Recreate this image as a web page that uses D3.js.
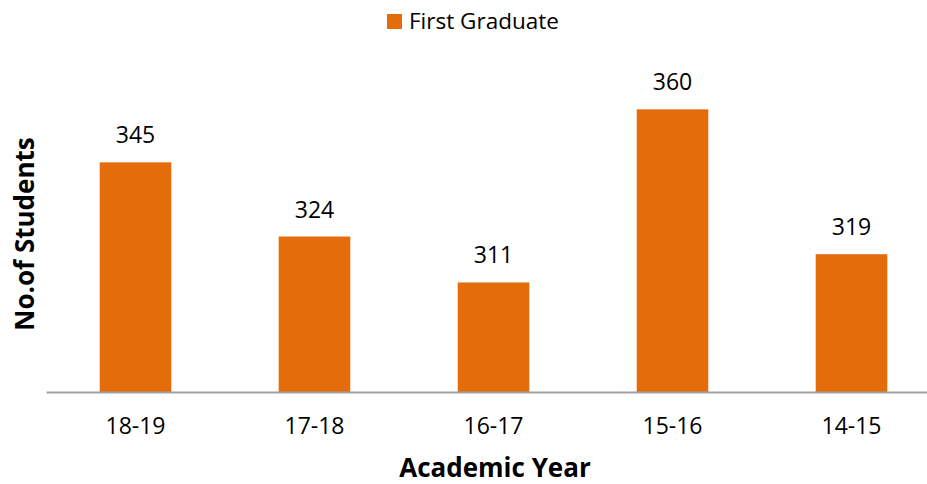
<!DOCTYPE html>
<html>
<head>
<meta charset="utf-8">
<script src="https://cdn.jsdelivr.net/npm/d3@7"></script>
<style>
  body { margin: 0; background: #fff; overflow: hidden; }
  text { font-family: "Open Sans", sans-serif; fill: #000; }
</style>
</head>
<body>
<svg id="chart"></svg>
<script>
var width = 927;
var height = 484;

var years = ["18-19", "17-18", "16-17", "15-16", "14-15"];
var students = [345, 324, 311, 360, 319];
var seriesName = "First Graduate";

var plot = { left: 46, right: 941, top: 74, bottom: 392 };
var barColor = "#E46C0A";

var svg = d3.select("#chart").attr("width", width).attr("height", height);

var data = years.map((y, i) => ({ year: y, value: students[i] }));

var xScale = d3
  .scaleBand()
  .domain(years)
  .range([plot.left, plot.right])
  .paddingInner(0.6)
  .paddingOuter(0.3);

var yScale = d3
  .scaleLinear()
  .domain([280, 370])
  .range([plot.bottom, plot.top]);

// bars
svg
  .selectAll("rect.bar")
  .data(data)
  .enter()
  .append("rect")
  .attr("class", "bar")
  .attr("x", (d) => xScale(d.year))
  .attr("y", (d) => yScale(d.value))
  .attr("width", xScale.bandwidth())
  .attr("height", (d) => plot.bottom - yScale(d.value))
  .attr("fill", barColor);

// value labels
svg
  .selectAll("text.val")
  .data(data)
  .enter()
  .append("text")
  .attr("class", "val")
  .attr("x", (d) => xScale(d.year) + xScale.bandwidth() / 2)
  .attr("y", (d) => yScale(d.value) - 19)
  .attr("text-anchor", "middle")
  .style("font-size", "23px")
  .text((d) => d.value);

// x axis
var xAxis = d3.axisBottom(xScale).tickSize(0).tickPadding(26);
var gx = svg
  .append("g")
  .attr("transform", `translate(0, ${plot.bottom})`)
  .call(xAxis);
gx.select(".domain").attr("stroke", "#A0A0A0").attr("stroke-width", 2);
gx.selectAll("text").style("font-size", "23px").style("font-family", "Open Sans, sans-serif");

// axis titles
svg
  .append("text")
  .attr("x", 495)
  .attr("y", 477)
  .attr("text-anchor", "middle")
  .style("font-size", "26px")
  .style("font-weight", "bold")
  .text("Academic Year");

svg
  .append("text")
  .attr("transform", "translate(34, 234) rotate(-90)")
  .attr("text-anchor", "middle")
  .style("font-size", "26px")
  .style("font-weight", "bold")
  .text("No.of Students");

// legend
svg
  .append("rect")
  .attr("x", 387)
  .attr("y", 14)
  .attr("width", 15)
  .attr("height", 15)
  .attr("fill", barColor);
svg
  .append("text")
  .attr("x", 409)
  .attr("y", 29)
  .style("font-size", "22.5px")
  .text(seriesName);
</script>
</body>
</html>
